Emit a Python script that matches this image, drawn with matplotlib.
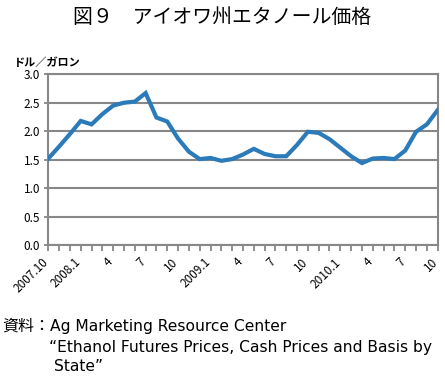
import matplotlib
matplotlib.use('Agg')
import matplotlib.pyplot as plt
import matplotlib.transforms as mtransforms
import numpy as np

plt.rcParams['font.family'] = ['Noto Sans CJK JP', 'DejaVu Sans']

# 月次データ 2007.10 - 2010.10 (ドル/ガロン)
months = ['2007.10', '11', '12', '2008.1', '2', '3', '4', '5', '6', '7', '8', '9',
          '10', '11', '12', '2009.1', '2', '3', '4', '5', '6', '7', '8', '9',
          '10', '11', '12', '2010.1', '2', '3', '4', '5', '6', '7', '8', '9', '10']
prices = [1.52, 1.73, 1.95, 2.18, 2.12, 2.30, 2.45, 2.50, 2.52, 2.67, 2.24, 2.17,
          1.87, 1.64, 1.51, 1.53, 1.48, 1.51, 1.59, 1.69, 1.60, 1.56, 1.56, 1.76,
          1.99, 1.97, 1.86, 1.71, 1.56, 1.44, 1.52, 1.53, 1.51, 1.66, 1.99, 2.12, 2.37]
label_every = 3

fig = plt.figure(figsize=(4.45, 3.77), dpi=100)
ax = fig.add_axes([0.1085, 0.350, 0.875, 0.453])

x = np.arange(len(months))
ax.plot(x, prices, color='#2b7bba', linewidth=3.0, solid_joinstyle='miter', zorder=3)

grid_c = '#878787'
ax.set_xlim(0, len(months) - 1)
ax.set_ylim(0, 3.0)
ax.set_yticks(np.arange(0, 3.01, 0.5))
ax.set_yticklabels([f'{v:.1f}' for v in np.arange(0, 3.01, 0.5)], fontsize=8.5)
ax.yaxis.grid(True, color=grid_c, linewidth=1.5)
ax.set_axisbelow(True)

ax.set_xticks(x, minor=True)
ax.set_xticks(x[::label_every])
ax.set_xticklabels(months[::label_every], rotation=45, ha='right', va='center',
                   rotation_mode='anchor', fontsize=8.5)
ax.tick_params(axis='x', which='both', length=4, width=1.3, color=grid_c, pad=7)
ax.tick_params(axis='y', length=3, width=1.3, color=grid_c, pad=3)
shift = mtransforms.ScaledTranslation(-2 / 100, 0, fig.dpi_scale_trans)
for lab in ax.get_xticklabels():
    lab.set_transform(lab.get_transform() + shift)

for s in ax.spines.values():
    s.set_color(grid_c)
    s.set_linewidth(1.5)

fig.text(0.5, 0.955, '図９　アイオワ州エタノール価格', ha='center', va='center', fontsize=14.3)
fig.text(0.032, 0.835, 'ドル／ガロン', ha='left', va='center', fontsize=8, fontweight='bold')

foot = ['DejaVu Sans', 'Noto Sans CJK JP']
fig.text(0.006, 0.135, '資料：', ha='left', va='center', fontsize=11.5)
fig.text(0.112, 0.135, 'Ag Marketing Resource Center', ha='left', va='center',
         fontsize=11.2, family=foot)
fig.text(0.110, 0.078, '“Ethanol Futures Prices, Cash Prices and Basis by', ha='left',
         va='center', fontsize=11.2, family=foot)
fig.text(0.122, 0.027, 'State”', ha='left', va='center', fontsize=11.2, family=foot)

fig.savefig('out.png', dpi=100)
